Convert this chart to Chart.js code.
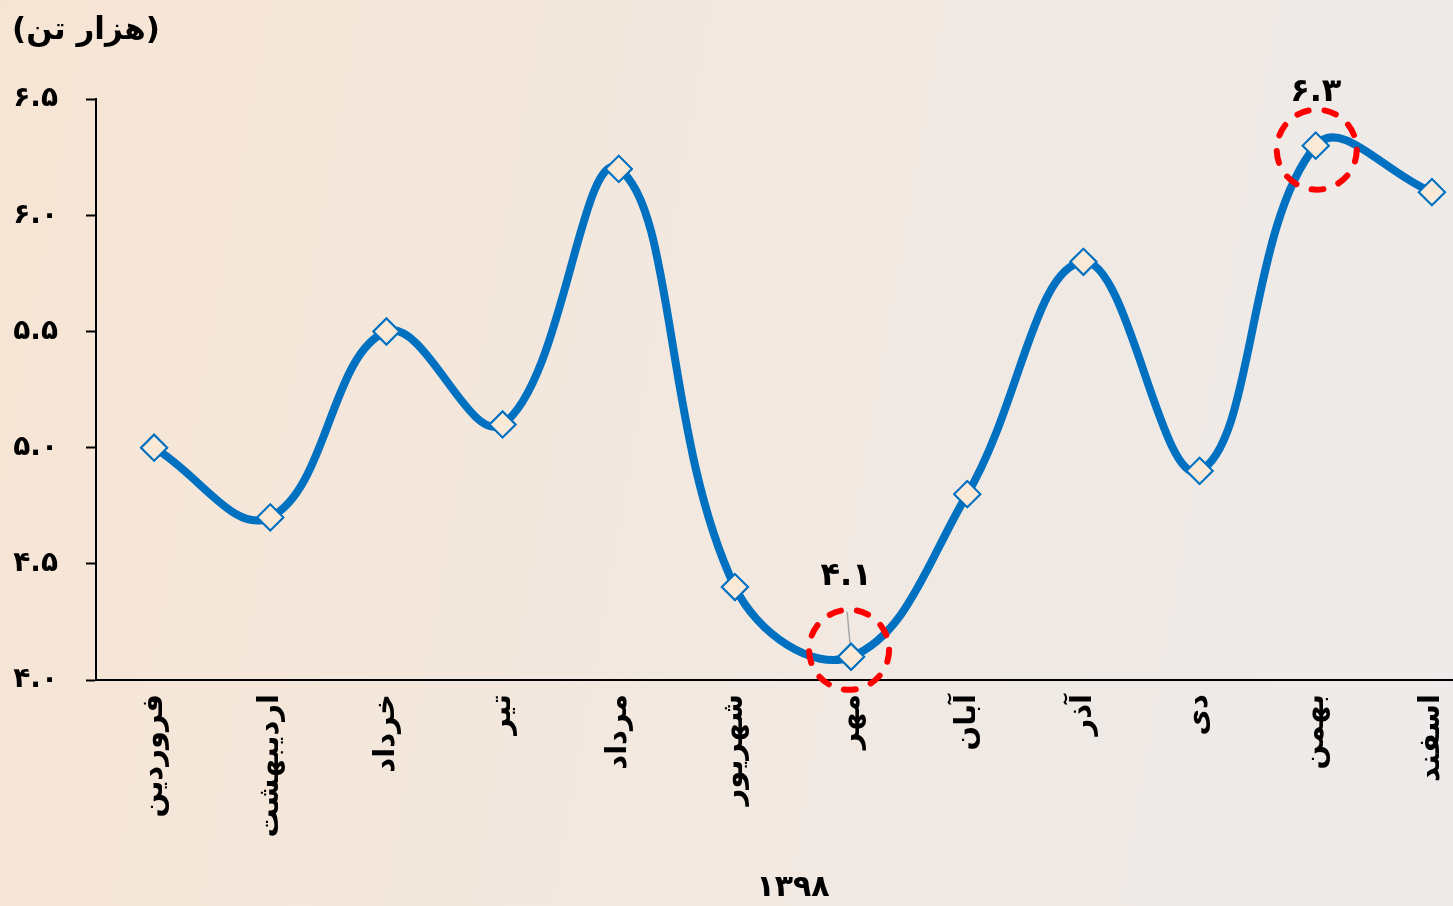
<!DOCTYPE html>
<html><head><meta charset="utf-8">
<script src="https://cdn.jsdelivr.net/npm/chart.js@4/dist/chart.umd.min.js"></script>
<style>
html,body{margin:0;padding:0;overflow:hidden;width:1453px;height:906px;}
body{background:linear-gradient(100deg,#F7E5D4 0%,#F2E8DF 45%,#EDEBEA 100%);}
#wrap{position:absolute;left:0;top:0;width:1505px;height:906px;}
</style></head><body>
<div id="wrap"><canvas id="c" width="1505" height="906"></canvas></div>
<script>
const months = ['فروردین','اردیبهشت','خرداد','تیر','مرداد','شهریور','مهر','آبان','آذر','دی','بهمن','اسفند'];
const values = [5.0,4.7,5.5,5.1,6.2,4.4,4.1,4.8,5.8,4.9,6.3,6.1];
const yTicks = [4.0,4.5,5.0,5.5,6.0,6.5];
const yTickLabels = ['۴.۰','۴.۵','۵.۰','۵.۵','۶.۰','۶.۵'];
const highlightIdx = [6,10];
const highlightLabels = ['۴.۱','۶.۳'];
const unitTitle = '(هزار تن)';
const yearTitle = '۱۳۹۸';

const FAM = '"DejaVu Sans", sans-serif';
const labelStyle = [
  {dx:-5, dy:-80, leader:true, cdx:-2, cdy:-7},
  {dx:0, dy:-53, leader:false, cdx:1, cdy:4}
];

const highlightPlugin = {
  id:'highlight',
  afterDatasetsDraw(chart){
    const ctx = chart.ctx;
    const meta = chart.getDatasetMeta(0);
    highlightIdx.forEach((idx,k)=>{
      const p = meta.data[idx];
      const st = labelStyle[k];
      ctx.save();
      ctx.strokeStyle = '#FF0000';
      ctx.lineWidth = 6;
      ctx.lineCap = 'round';
      ctx.setLineDash([12,16]);
      ctx.beginPath();
      ctx.arc(p.x+st.cdx, p.y+st.cdy, 40, 0, Math.PI*2);
      ctx.stroke();
      ctx.setLineDash([]);
      const lx = p.x+st.dx, ly = p.y+st.dy;
      if(st.leader){
        ctx.strokeStyle = '#A6A6A6';
        ctx.lineWidth = 1.5;
        ctx.lineCap = 'butt';
        ctx.beginPath();
        ctx.moveTo(lx+1, ly+35);
        ctx.lineTo(p.x, p.y-2);
        ctx.stroke();
      }
      ctx.fillStyle = '#000';
      ctx.font = 'bold 32px ' + FAM;
      ctx.textAlign = 'center';
      ctx.textBaseline = 'middle';
      ctx.fillText(highlightLabels[k], lx, ly);
      ctx.restore();
    });
    meta.data.forEach(pt=>pt.draw(ctx, chart.chartArea));
  }
};

new Chart(document.getElementById('c'), {
  type:'line',
  data:{
    labels:months,
    datasets:[{
      data:values,
      borderColor:'#0070C0',
      borderWidth:8,
      tension:0.4,
      pointStyle:'rectRot',
      pointRadius:13,
      pointBackgroundColor:'#FBE9D8',
      pointBorderColor:'#0070C0',
      pointBorderWidth:2,
      clip:false
    }]
  },
  options:{
    responsive:false,
    animation:false,
    devicePixelRatio:1,
    layout:{padding:{left:12,right:9,top:0,bottom:0}},
    plugins:{
      legend:{display:false},
      tooltip:{enabled:false},
      title:{display:true,text:unitTitle,align:'start',color:'#000',
        font:{family:FAM,size:31,weight:'bold'},padding:{top:12,bottom:50}}
    },
    scales:{
      x:{
        offset:true,
        grid:{display:false,drawTicks:false,offset:true},
        border:{display:true,color:'#000',width:2},
        afterFit(axis){axis.height=226;},
        ticks:{minRotation:90,maxRotation:90,padding:14,color:'#000',autoSkip:false,
          font:{family:FAM,size:29,weight:'bold'}},
        title:{display:true,text:yearTitle,color:'#000',
          font:{family:FAM,size:30,weight:'bold'},padding:{top:0,bottom:0}}
      },
      y:{
        min:4,max:6.5,
        afterBuildTicks(axis){axis.ticks = yTicks.map(v=>({value:v}));},
        afterFit(axis){axis.width=84;},
        grid:{drawOnChartArea:false,drawTicks:true,tickLength:10,tickColor:'#000',tickWidth:2},
        border:{display:true,color:'#000',width:2},
        ticks:{padding:28,color:'#000',font:{family:FAM,size:28,weight:'bold'},
          callback(v){const i=yTicks.indexOf(v);return i>=0?yTickLabels[i]:'';}}
      }
    }
  },
  plugins:[highlightPlugin]
});
</script>
</body></html>
